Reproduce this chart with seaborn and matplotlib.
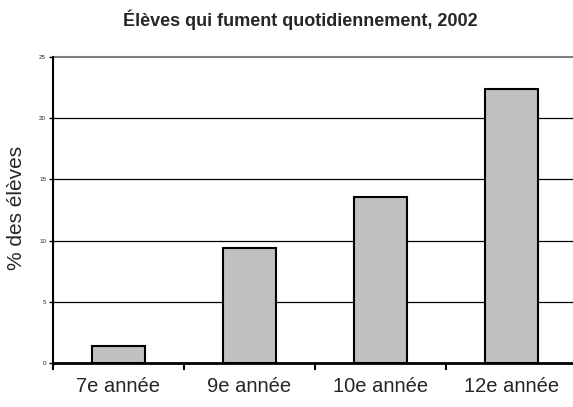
import matplotlib
matplotlib.use("Agg")
import matplotlib.pyplot as plt
import matplotlib.transforms as mtransforms
import pandas as pd
import seaborn as sns

# data
grades = ['7e année', '9e année', '10e année', '12e année']
pct_smokers = [1.4, 9.4, 13.6, 22.4]
y_ticks = [0, 5, 10, 15, 20, 25]

df = pd.DataFrame({'grade': grades, 'pct': pct_smokers})

sns.set_style('white')
plt.rcParams['font.family'] = ['Liberation Sans', 'DejaVu Sans']

fig = plt.figure(figsize=(5.73, 4.07), dpi=100)
ax = fig.add_axes([53 / 573, 1 - 363 / 407, (577 - 53) / 573, (363 - 57) / 407])

for t in y_ticks[1:-1]:
    ax.axhline(t, color='black', lw=0.9, zorder=0)
ax.axhline(25, color='#808080', lw=1.5, zorder=0, clip_on=False)

sns.barplot(data=df, x='grade', y='pct', color='#c0c0c0', width=0.4,
            edgecolor='black', linewidth=1.5, saturation=1, ax=ax, zorder=2)

ax.set_ylim(0, 25)
ax.set_xlim(-0.5, 3.5)
ax.set_yticks(y_ticks)
ax.set_yticklabels([str(t) for t in y_ticks], fontsize=4.5)
ax.set_xticks([-0.5, 0.5, 1.5, 2.5])
ax.set_xticklabels([])
ax.tick_params(axis='x', length=5, width=1.5, direction='out', color='black', bottom=True)
ax.tick_params(axis='y', length=3, width=1, direction='out', color='black', left=True, pad=2)

trans = mtransforms.blended_transform_factory(ax.transData, ax.transAxes)
for i, g in enumerate(grades):
    ax.text(i, -24 / 306, g, ha='center', va='center', fontsize=14.5, transform=trans)

ax.set_xlabel('')
ax.set_ylabel('')
fig.text(17 / 573, 1 - 208 / 407, '% des élèves', rotation=90,
         ha='center', va='center', fontsize=15)

for s in ['top', 'right']:
    ax.spines[s].set_visible(False)
ax.spines['left'].set_linewidth(1.5)
ax.spines['bottom'].set_linewidth(2)
ax.spines['left'].set_color('black')
ax.spines['bottom'].set_color('black')

fig.text(300 / 573, 1 - 20 / 407, 'Élèves qui fument quotidiennement, 2002',
         ha='center', va='center', fontsize=13, fontweight='bold')

fig.savefig('out.png', dpi=100)
